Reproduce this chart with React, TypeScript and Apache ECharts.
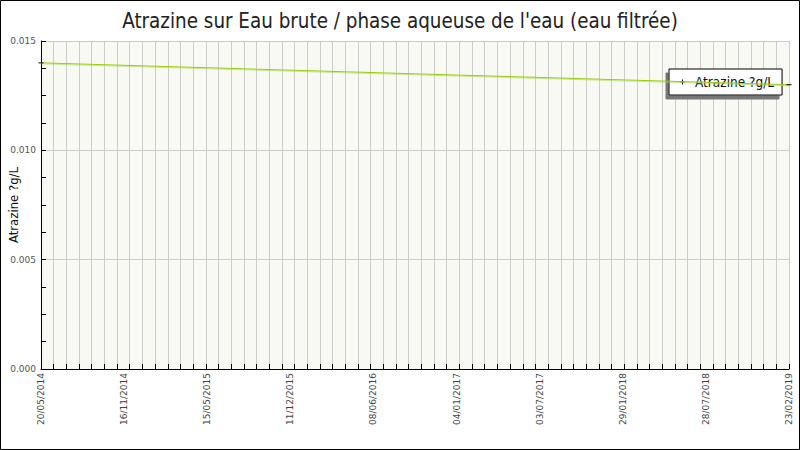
import React, { useEffect, useRef } from 'react'
import * as echarts from 'echarts'

const dateLabels = [
    '20/05/2014',
    '16/11/2014',
    '15/05/2015',
    '11/12/2015',
    '08/06/2016',
    '04/01/2017',
    '03/07/2017',
    '29/01/2018',
    '28/07/2018',
    '23/02/2019',
]
// measured values at first and last date, nothing in between
const atrazineValues: (number | null)[] = [0.014, null, null, null, null, null, null, null, null, 0.013]
const yTicks = [0, 0.005, 0.01, 0.015]
const monthSteps = 59

const seriesName = 'Atrazine ?g/L'

const App: React.FC = () => {
    const chartRef = useRef<HTMLDivElement>(null)

    useEffect(() => {
        const chart = echarts.init(chartRef.current, null, { renderer: 'svg' })

        const option = {
            animation: false,
            backgroundColor: '#ffffff',
            title: {
                text: 'Atrazine sur Eau brute / phase aqueuse de l\'eau (eau filtrée)',
                left: 'center',
                top: 6,
                textStyle: {
                    fontFamily: 'DejaVu Sans Condensed',
                    fontSize: 20.4,
                    fontWeight: 'normal',
                    color: '#222',
                },
            },
            legend: {
                left: 669,
                top: 69,
                z: 1,
                padding: [6, 8, 6, 11],
                backgroundColor: '#fff',
                borderColor: '#000',
                borderWidth: 1,
                shadowColor: '#777',
                shadowOffsetX: -3,
                shadowOffsetY: 4,
                shadowBlur: 0,
                itemWidth: 5,
                itemHeight: 5,
                data: [{ name: seriesName, icon: 'path://M0,2h5v1h-5z M2,0h1v5h-1z' }],
                itemStyle: { color: '#000' },
                textStyle: {
                    fontFamily: 'DejaVu Sans Condensed',
                    fontSize: 13.5,
                    color: '#111',
                    padding: [0, 0, 0, 5],
                },
            },
            grid: {
                left: 41,
                right: 11,
                top: 41,
                bottom: 81,
                containLabel: false,
                outerBoundsMode: 'none',
                show: true,
                backgroundColor: '#f9f9f3',
                borderWidth: 0,
            },
            xAxis: [
                {
                    type: 'category',
                    data: dateLabels,
                    boundaryGap: false,
                    axisLine: { lineStyle: { color: '#000', width: 1 } },
                    axisTick: { show: false },
                    splitLine: { show: false },
                    axisLabel: {
                        interval: 0,
                        rotate: 90,
                        margin: 4,
                        fontFamily: 'DejaVu Sans',
                        fontSize: 9,
                        color: '#444',
                    },
                },
                {
                    type: 'value',
                    position: 'bottom',
                    min: 0,
                    max: monthSteps,
                    interval: 1,
                    axisLine: { show: false },
                    axisLabel: { show: false },
                    axisTick: { show: true, inside: true, length: 5, lineStyle: { color: '#000' } },
                    splitLine: { show: true, lineStyle: { color: '#cccccc', width: 1 } },
                },
            ],
            yAxis: {
                type: 'value',
                min: yTicks[0],
                max: yTicks[yTicks.length - 1],
                interval: 0.005,
                name: seriesName,
                nameLocation: 'middle',
                nameGap: 21,
                nameMoveOverlap: false,
                nameTextStyle: {
                    fontFamily: 'DejaVu Sans Condensed',
                    fontSize: 13,
                    color: '#111',
                },
                axisLine: { show: true, lineStyle: { color: '#000', width: 1 } },
                axisTick: { show: true, inside: true, length: 5, lineStyle: { color: '#000' } },
                minorTick: { show: true, splitNumber: 4, length: 5, lineStyle: { color: '#000' } },
                splitLine: { show: true, lineStyle: { color: '#cccccc', width: 1 } },
                axisLabel: {
                    margin: 5,
                    fontFamily: 'DejaVu Sans',
                    fontSize: 9,
                    color: '#555',
                    formatter: (v: number) => v.toFixed(3),
                },
            },
            series: [
                {
                    name: seriesName,
                    type: 'line',
                    xAxisIndex: 0,
                    z: 3,
                    data: atrazineValues,
                    connectNulls: true,
                    symbol: 'rect',
                    symbolSize: [5, 1],
                    itemStyle: { color: '#000' },
                    lineStyle: {
                        color: '#99cc11',
                        width: 1,
                        shadowColor: 'rgba(170, 215, 80, 0.6)',
                        shadowBlur: 0,
                        shadowOffsetY: 1,
                    },
                },
            ],
            graphic: [
                {
                    type: 'rect',
                    z: 100,
                    shape: { x: 0.5, y: 0.5, width: 799, height: 449 },
                    style: { fill: 'none', stroke: '#000', lineWidth: 1 },
                },
            ],
        }

        chart.setOption(option)

        return () => {
            chart.dispose()
        }
    }, [])

    return (
        <div style={{ position: 'fixed', left: 0, top: 0, width: 800, height: 450 }}>
            <div ref={chartRef} style={{ width: '800px', height: '450px' }} />
        </div>
    )
}

export default App
